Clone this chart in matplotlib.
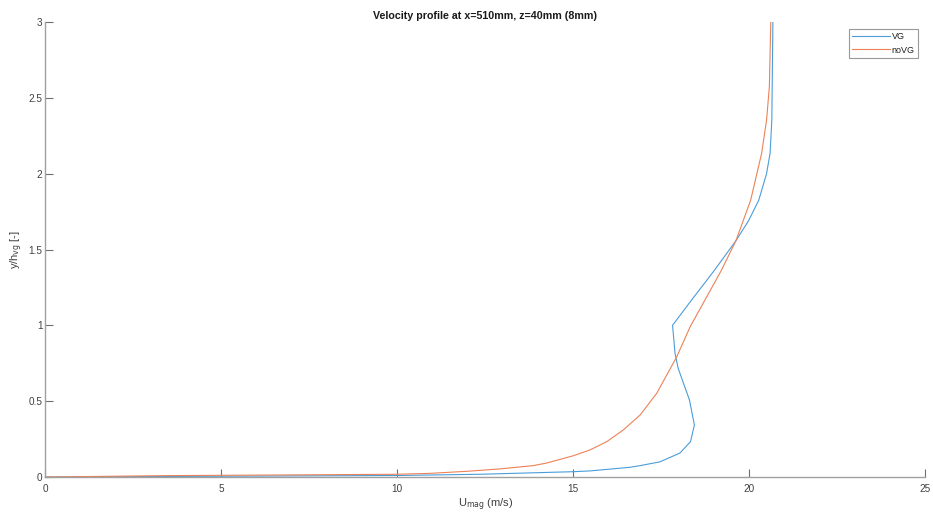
import matplotlib
matplotlib.use("Agg")
import matplotlib.pyplot as plt

plt.rcParams['font.family'] = ['Liberation Sans', 'DejaVu Sans']

# Velocity magnitude profiles (U in m/s, height normalised by vane height)
vg_u = [0.0, 5.0, 10.0, 12.35, 15.0, 15.47, 16.61, 16.9, 17.46, 17.56, 18.03,
        18.33, 18.44, 18.30, 17.98, 17.89, 17.82, 18.36, 19.0, 19.62, 19.98,
        20.27, 20.49, 20.59, 20.64, 20.65, 20.67]
vg_y = [0.0, 0.005, 0.01, 0.018, 0.035, 0.04, 0.064, 0.075, 0.10, 0.11, 0.158,
        0.233, 0.343, 0.508, 0.716, 0.815, 1.0, 1.167, 1.36, 1.558, 1.69,
        1.826, 2.0, 2.134, 2.353, 2.573, 3.0]

novg_u = [0.0, 3.45, 10.0, 10.93, 12.0, 12.9, 13.86, 14.24, 15.0, 15.47, 15.95,
          16.42, 16.9, 17.37, 17.94, 18.32, 18.74, 19.2, 19.62, 20.04, 20.35,
          20.49, 20.57, 20.61]
novg_y = [0.0, 0.009, 0.018, 0.024, 0.038, 0.053, 0.075, 0.092, 0.14, 0.178,
          0.233, 0.31, 0.409, 0.552, 0.793, 0.991, 1.167, 1.36, 1.558, 1.826,
          2.134, 2.353, 2.573, 3.0]

x_ticks = [0, 5, 10, 15, 20, 25]
y_ticks = [0, 0.5, 1, 1.5, 2, 2.5, 3]
y_tick_labels = ['0', '0.5', '1', '1.5', '2', '2.5', '3']

blue = '#4a9ddb'
orange = '#ec8256'
axis_grey = '#a0a0a0'
text_grey = '#404040'

fig = plt.figure(figsize=(9.33, 5.17), dpi=100)
ax = fig.add_axes([45.3 / 933, 40 / 517, 880 / 933, 455 / 517])

ax.plot(vg_u, vg_y, color=blue, lw=0.8, label='VG')
ax.plot(novg_u, novg_y, color=orange, lw=0.8, label='noVG')

ax.set_xlim(0, 25)
ax.set_ylim(0, 3)
ax.set_xticks(x_ticks)
ax.set_xticklabels([str(t) for t in x_ticks])
ax.set_yticks(y_ticks)
ax.set_yticklabels(y_tick_labels)

for side in ('top', 'right'):
    ax.spines[side].set_visible(False)
for side in ('left', 'bottom'):
    ax.spines[side].set_color(axis_grey)
    ax.spines[side].set_linewidth(1.0)

ax.tick_params(direction='in', length=6, width=0.8, color='#707070',
               labelcolor=text_grey, labelsize=7.2)
ax.tick_params(axis='x', pad=5)
ax.tick_params(axis='y', pad=2)

ax.set_title('Velocity profile at x=510mm, z=40mm (8mm)', fontsize=7.7,
             fontweight='bold', color='#1a1a1a', pad=2.5)
ax.set_xlabel(r'U$_{\mathrm{mag}}$ (m/s)', fontsize=8, color=text_grey, labelpad=2)
ax.set_ylabel(r'y/h$_{\mathrm{vg}}$ [-]', fontsize=8, color=text_grey)
ax.yaxis.set_label_coords(-0.023, 0.5)

leg = ax.legend(loc='upper right', fontsize=6.5, frameon=True, fancybox=False,
                handlelength=4.2, borderpad=0.35, labelspacing=0.45,
                handletextpad=0.2, borderaxespad=0.0,
                bbox_to_anchor=((917.7 - 45.3) / 880, (477 - 29.3) / 455))
leg.get_frame().set_edgecolor('#808080')
leg.get_frame().set_linewidth(0.8)
for t in leg.get_texts():
    t.set_color('#202020')

fig.savefig('out.png', dpi=100)
